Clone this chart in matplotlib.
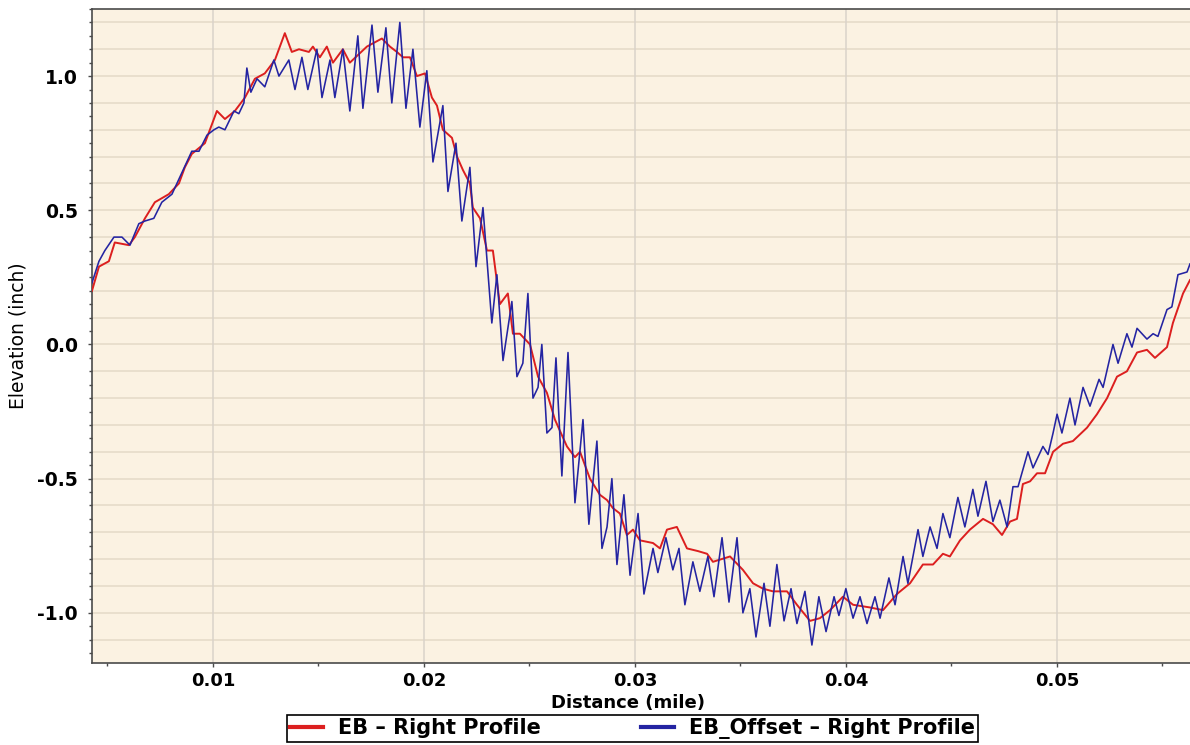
import numpy as np
import matplotlib
matplotlib.use("Agg")
import matplotlib.pyplot as plt
from matplotlib.ticker import MultipleLocator, FormatStrFormatter

# ---------------- data (distance in mile, elevation in inch) ----------------
red_x = [0.00427, 0.00460, 0.00507, 0.00535, 0.00602, 0.00630, 0.00678, 0.00725, 0.00791, 0.00839,
         0.00867, 0.00900, 0.00962, 0.01019, 0.01057, 0.01104, 0.01152, 0.01199, 0.01246, 0.01294,
         0.01341, 0.01374, 0.01408, 0.01455, 0.01474, 0.01507, 0.01540, 0.01569, 0.01616, 0.01649,
         0.01730, 0.01801, 0.01839, 0.01872, 0.01901, 0.01934, 0.01967, 0.02005, 0.02038, 0.02062,
         0.02090, 0.02133, 0.02157, 0.02185, 0.02218, 0.02232, 0.02266, 0.02299, 0.02327, 0.02360,
         0.02398, 0.02422, 0.02455, 0.02503, 0.02541, 0.02583, 0.02621, 0.02678, 0.02716, 0.02740,
         0.02787, 0.02834, 0.02868, 0.02896, 0.02929, 0.02962, 0.02991, 0.03024, 0.03086, 0.03119,
         0.03152, 0.03199, 0.03247, 0.03299, 0.03342, 0.03370, 0.03451, 0.03512, 0.03560, 0.03607,
         0.03654, 0.03721, 0.03768, 0.03830, 0.03877, 0.03925, 0.03986, 0.04034, 0.04114, 0.04176,
         0.04242, 0.04304, 0.04365, 0.04413, 0.04460, 0.04493, 0.04541, 0.04588, 0.04650, 0.04697,
         0.04740, 0.04778, 0.04811, 0.04839, 0.04873, 0.04906, 0.04944, 0.04982, 0.05029, 0.05076,
         0.05143, 0.05190, 0.05238, 0.05285, 0.05332, 0.05380, 0.05427, 0.05465, 0.05522, 0.05550,
         0.05598, 0.05631]
red_y = [0.20, 0.29, 0.31, 0.38, 0.37, 0.40, 0.47, 0.53, 0.56, 0.60,
         0.66, 0.71, 0.75, 0.87, 0.84, 0.87, 0.92, 0.99, 1.01, 1.06,
         1.16, 1.09, 1.10, 1.09, 1.11, 1.07, 1.11, 1.05, 1.10, 1.05,
         1.11, 1.14, 1.11, 1.09, 1.07, 1.07, 1.00, 1.01, 0.92, 0.89,
         0.80, 0.77, 0.70, 0.65, 0.60, 0.51, 0.47, 0.35, 0.35, 0.15,
         0.19, 0.04, 0.04, 0.00, -0.12, -0.18, -0.28, -0.38, -0.42, -0.40,
         -0.50, -0.56, -0.58, -0.61, -0.63, -0.71, -0.69, -0.73, -0.74, -0.76,
         -0.69, -0.68, -0.76, -0.77, -0.78, -0.81, -0.79, -0.84, -0.89, -0.91,
         -0.92, -0.92, -0.97, -1.03, -1.02, -0.99, -0.94, -0.97, -0.98, -0.99,
         -0.93, -0.89, -0.82, -0.82, -0.78, -0.79, -0.73, -0.69, -0.65, -0.67,
         -0.71, -0.66, -0.65, -0.52, -0.51, -0.48, -0.48, -0.40, -0.37, -0.36,
         -0.31, -0.26, -0.20, -0.12, -0.10, -0.03, -0.02, -0.05, -0.01, 0.08,
         0.19, 0.24]

blue_x = [0.00427, 0.00460, 0.00488, 0.00531, 0.00569, 0.00607, 0.00649, 0.00678, 0.00720, 0.00758,
          0.00806, 0.00853, 0.00900, 0.00934, 0.00972, 0.01005, 0.01028, 0.01057, 0.01100, 0.01123,
          0.01147, 0.01161, 0.01180, 0.01209, 0.01246, 0.01289, 0.01313, 0.01360, 0.01389, 0.01422,
          0.01450, 0.01493, 0.01517, 0.01555, 0.01578, 0.01616, 0.01649, 0.01687, 0.01711, 0.01754,
          0.01782, 0.01820, 0.01848, 0.01886, 0.01915, 0.01948, 0.01981, 0.02014, 0.02043, 0.02090,
          0.02114, 0.02152, 0.02180, 0.02218, 0.02247, 0.02280, 0.02322, 0.02346, 0.02375, 0.02417,
          0.02441, 0.02469, 0.02493, 0.02517, 0.02541, 0.02559, 0.02583, 0.02607, 0.02626, 0.02654,
          0.02683, 0.02716, 0.02754, 0.02782, 0.02820, 0.02844, 0.02868, 0.02891, 0.02915, 0.02948,
          0.02977, 0.03015, 0.03043, 0.03086, 0.03109, 0.03147, 0.03180, 0.03209, 0.03237, 0.03275,
          0.03308, 0.03346, 0.03375, 0.03413, 0.03446, 0.03484, 0.03512, 0.03545, 0.03574, 0.03612,
          0.03640, 0.03673, 0.03707, 0.03740, 0.03768, 0.03806, 0.03839, 0.03872, 0.03906, 0.03944,
          0.03967, 0.04000, 0.04034, 0.04067, 0.04100, 0.04138, 0.04162, 0.04204, 0.04233, 0.04271,
          0.04294, 0.04342, 0.04365, 0.04399, 0.04432, 0.04460, 0.04493, 0.04531, 0.04564, 0.04602,
          0.04626, 0.04664, 0.04697, 0.04730, 0.04764, 0.04792, 0.04816, 0.04863, 0.04887, 0.04934,
          0.04958, 0.04982, 0.05001, 0.05024, 0.05062, 0.05086, 0.05124, 0.05157, 0.05200, 0.05219,
          0.05266, 0.05290, 0.05332, 0.05356, 0.05380, 0.05427, 0.05456, 0.05479, 0.05522, 0.05545,
          0.05574, 0.05617, 0.05631]
blue_y = [0.23, 0.31, 0.35, 0.40, 0.40, 0.37, 0.45, 0.46, 0.47, 0.53,
          0.56, 0.64, 0.72, 0.72, 0.78, 0.80, 0.81, 0.80, 0.87, 0.86,
          0.90, 1.03, 0.94, 0.99, 0.96, 1.06, 1.00, 1.06, 0.95, 1.07,
          0.95, 1.10, 0.92, 1.06, 0.92, 1.10, 0.87, 1.15, 0.88, 1.19,
          0.94, 1.18, 0.90, 1.20, 0.88, 1.10, 0.81, 1.02, 0.68, 0.89,
          0.57, 0.75, 0.46, 0.66, 0.29, 0.51, 0.08, 0.26, -0.06, 0.16,
          -0.12, -0.07, 0.19, -0.20, -0.16, 0.00, -0.33, -0.31, -0.05, -0.49,
          -0.03, -0.59, -0.28, -0.67, -0.36, -0.76, -0.68, -0.50, -0.82, -0.56,
          -0.86, -0.63, -0.93, -0.76, -0.85, -0.72, -0.84, -0.76, -0.97, -0.81,
          -0.92, -0.79, -0.94, -0.72, -0.96, -0.72, -1.00, -0.91, -1.09, -0.89,
          -1.05, -0.82, -1.03, -0.91, -1.04, -0.92, -1.12, -0.94, -1.07, -0.94,
          -1.01, -0.91, -1.02, -0.94, -1.04, -0.94, -1.02, -0.87, -0.97, -0.79,
          -0.89, -0.69, -0.79, -0.68, -0.76, -0.63, -0.72, -0.57, -0.68, -0.54,
          -0.64, -0.51, -0.66, -0.58, -0.68, -0.53, -0.53, -0.40, -0.46, -0.38,
          -0.41, -0.33, -0.26, -0.33, -0.20, -0.30, -0.16, -0.23, -0.13, -0.16,
          0.00, -0.07, 0.04, -0.01, 0.06, 0.02, 0.04, 0.03, 0.13, 0.14,
          0.26, 0.27, 0.30]

series_labels = ["EB \u2013 Right Profile", "EB_Offset \u2013 Right Profile"]
x_label = "Distance (mile)"
y_label = "Elevation (inch)"

# ---------------- styling ----------------
RED = "#DC1F1F"
BLUE = "#2424A2"
FACE = "#FBF2E2"
HGRID = "#E8DDCB"
VGRID = "#DAD3CA"
SPINE = "#4A4A4A"

plt.rcParams["font.family"] = ["DejaVu Sans"]

W, H = 1190, 745
fig = plt.figure(figsize=(W / 100, H / 100), dpi=100)
fig.patch.set_facecolor("white")
ax = fig.add_axes([92 / W, 1 - 663 / H, (1190 - 92) / W, (663 - 9) / H])
ax.set_facecolor(FACE)

ax.set_xlim(0.00427, 0.05631)
ax.set_ylim(-1.187, 1.25)

# grid
for gy in np.arange(-1.1, 1.25, 0.1):
    ax.axhline(gy, color=HGRID, lw=1.3, zorder=0)
ax.xaxis.set_major_locator(MultipleLocator(0.01))
ax.xaxis.set_minor_locator(MultipleLocator(0.005))
ax.yaxis.set_major_locator(MultipleLocator(0.5))
ax.yaxis.set_minor_locator(MultipleLocator(0.05))
ax.xaxis.set_major_formatter(FormatStrFormatter("%.2f"))
ax.yaxis.set_major_formatter(FormatStrFormatter("%.1f"))
ax.grid(which="major", axis="x", color=VGRID, lw=1.1, zorder=0)
ax.set_axisbelow(True)

ax.plot(red_x, red_y, color=RED, lw=1.4, label=series_labels[0], zorder=3)
ax.plot(blue_x, blue_y, color=BLUE, lw=1.15, label=series_labels[1], zorder=4)

for s in ["left", "bottom", "top"]:
    ax.spines[s].set_color(SPINE)
    ax.spines[s].set_linewidth(1.2)
ax.spines["right"].set_visible(False)

ax.tick_params(which="both", direction="out", color=SPINE, width=1.0)
ax.tick_params(which="major", length=3)
ax.tick_params(which="minor", length=2.5)
ax.tick_params(axis="y", which="major", pad=7, labelsize=13.5)
ax.tick_params(axis="x", which="major", pad=3.5, labelsize=13)
for lab in ax.get_xticklabels() + ax.get_yticklabels():
    lab.set_fontweight("bold")

ax.set_xlabel(x_label, fontsize=13, fontweight="bold")
ax.xaxis.set_label_coords((628 - 92) / 1098, -(694 - 663) / 654)
ax.set_ylabel(y_label, fontsize=13.5)
ax.yaxis.set_label_coords((28 - 92) / 1098, 0.5)

leg = fig.legend(loc="center", ncol=2, mode="expand",
                 bbox_to_anchor=(287 / W, 1 - 744 / H, 691 / W, 31 / H),
                 bbox_transform=fig.transFigure, borderaxespad=0,
                 prop={"weight": "bold", "size": 15}, frameon=True, fancybox=False,
                 framealpha=1, edgecolor="black", handlelength=1.6,
                 handletextpad=0.7, borderpad=0.15, columnspacing=1.2)
leg.get_frame().set_linewidth(1.2)
for ln in leg.get_lines():
    ln.set_linewidth(3)

fig.savefig("out.png", dpi=100)
